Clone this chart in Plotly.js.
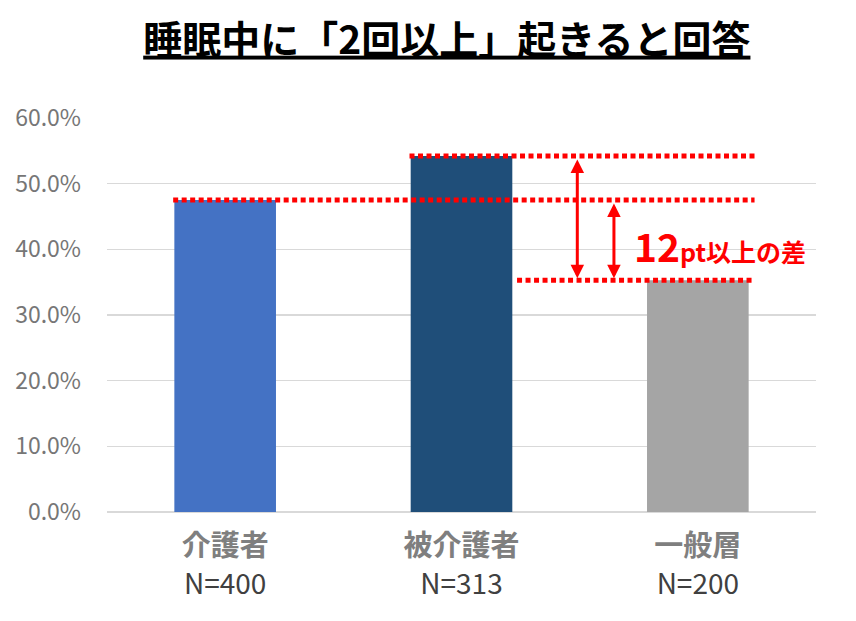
<!DOCTYPE html>
<html>
<head>
<meta charset="utf-8">
<script src="https://cdn.plot.ly/plotly-3.0.1.min.js"></script>
<style>html,body{margin:0;padding:0;background:#fff;}#chart{width:856px;height:621px;}</style>
</head>
<body>
<div id="chart"></div>
<script>
// ---- data ----
const categories = ["介護者", "被介護者", "一般層"];
const sampleSizes = ["N=400", "N=313", "N=200"];
const values = [0.475, 0.542, 0.353];
const barColors = ["#4472C4", "#1F4E79", "#A5A5A5"];
const yTickVals = [0, 0.1, 0.2, 0.3, 0.4, 0.5, 0.6];
const titleText = "睡眠中に「2回以上」起きると回答";
const diffNumber = "12";
const diffUnit = "pt以上の差";

const FONT = '"Noto Sans CJK JP", "Noto Sans", sans-serif';
const RED = "#FF0000";

const tickText = categories.map((c, i) =>
  "<b>" + c + "</b><br><span style=\"font-size:28px;color:#404040\">" + sampleSizes[i] + "</span>");

const trace = {
  type: "bar",
  x: categories,
  y: values,
  marker: { color: barColors },
  hoverinfo: "none"
};

// dotted reference lines from data values (category index positions)
function hline(y, x0, x1) {
  return {
    type: "line", xref: "x", yref: "y",
    x0: x0, x1: x1, y0: y, y1: y,
    line: { color: RED, width: 5, dash: "5px,3.5px" }
  };
}
const shapes = [
  hline(values[1], 1 - 0.22, 2.24),
  hline(values[0], 0 - 0.22, 2.24),
  hline(values[2], 1.235, 2.24)
];

function arrow(x, yTop, yBottom) {
  return {
    x: x, y: yBottom, ax: x, ay: yTop,
    xref: "x", yref: "y", axref: "x", ayref: "y",
    text: "", showarrow: true,
    arrowhead: 2, arrowside: "end+start",
    arrowsize: 0.9, arrowwidth: 3, arrowcolor: RED,
    standoff: 2, startstandoff: 2
  };
}

const annotations = [
  arrow(1.49, values[1], values[2]),
  arrow(1.645, values[0], values[2]),
  {
    x: 1.72, y: 0.407, xref: "x", yref: "y",
    xanchor: "left", yanchor: "middle",
    text: "<b><span style=\"font-size:39px\">" + diffNumber + "</span>" + diffUnit + "</b>",
    showarrow: false,
    font: { family: FONT, size: 25, color: RED }
  }
];

const layout = {
  width: 856, height: 621,
  margin: { l: 107, r: 40, t: 118, b: 109 },
  paper_bgcolor: "#ffffff",
  plot_bgcolor: "#ffffff",
  showlegend: false,
  bargap: 0.57,
  title: {
    text: "<span style=\"text-decoration:underline\">" + titleText + "</span>",
    font: { family: FONT, size: 39, color: "#000000", weight: "bold" },
    x: 0.522, xanchor: "center",
    y: 1 - 40 / 621, yref: "container", yanchor: "middle"
  },
  xaxis: {
    type: "category",
    tickvals: categories,
    ticktext: tickText,
    tickfont: { family: FONT, size: 29, color: "#7F7F7F" },
    showgrid: false, zeroline: false, showline: false,
    ticks: "", ticklabelstandoff: 14,
    range: [-0.5, 2.5]
  },
  yaxis: {
    range: [0, 0.6],
    tickvals: yTickVals,
    tickformat: ".1%",
    tickfont: { family: FONT, size: 23, color: "#767676" },
    showgrid: true, gridcolor: "#D9D9D9", gridwidth: 1.5,
    zeroline: true, zerolinecolor: "#D9D9D9", zerolinewidth: 1.5,
    showline: false, ticks: "", ticklabelstandoff: 25
  },
  shapes: shapes,
  annotations: annotations
};

Plotly.newPlot("chart", [trace], layout, { displayModeBar: false, staticPlot: true });
</script>
</body>
</html>
